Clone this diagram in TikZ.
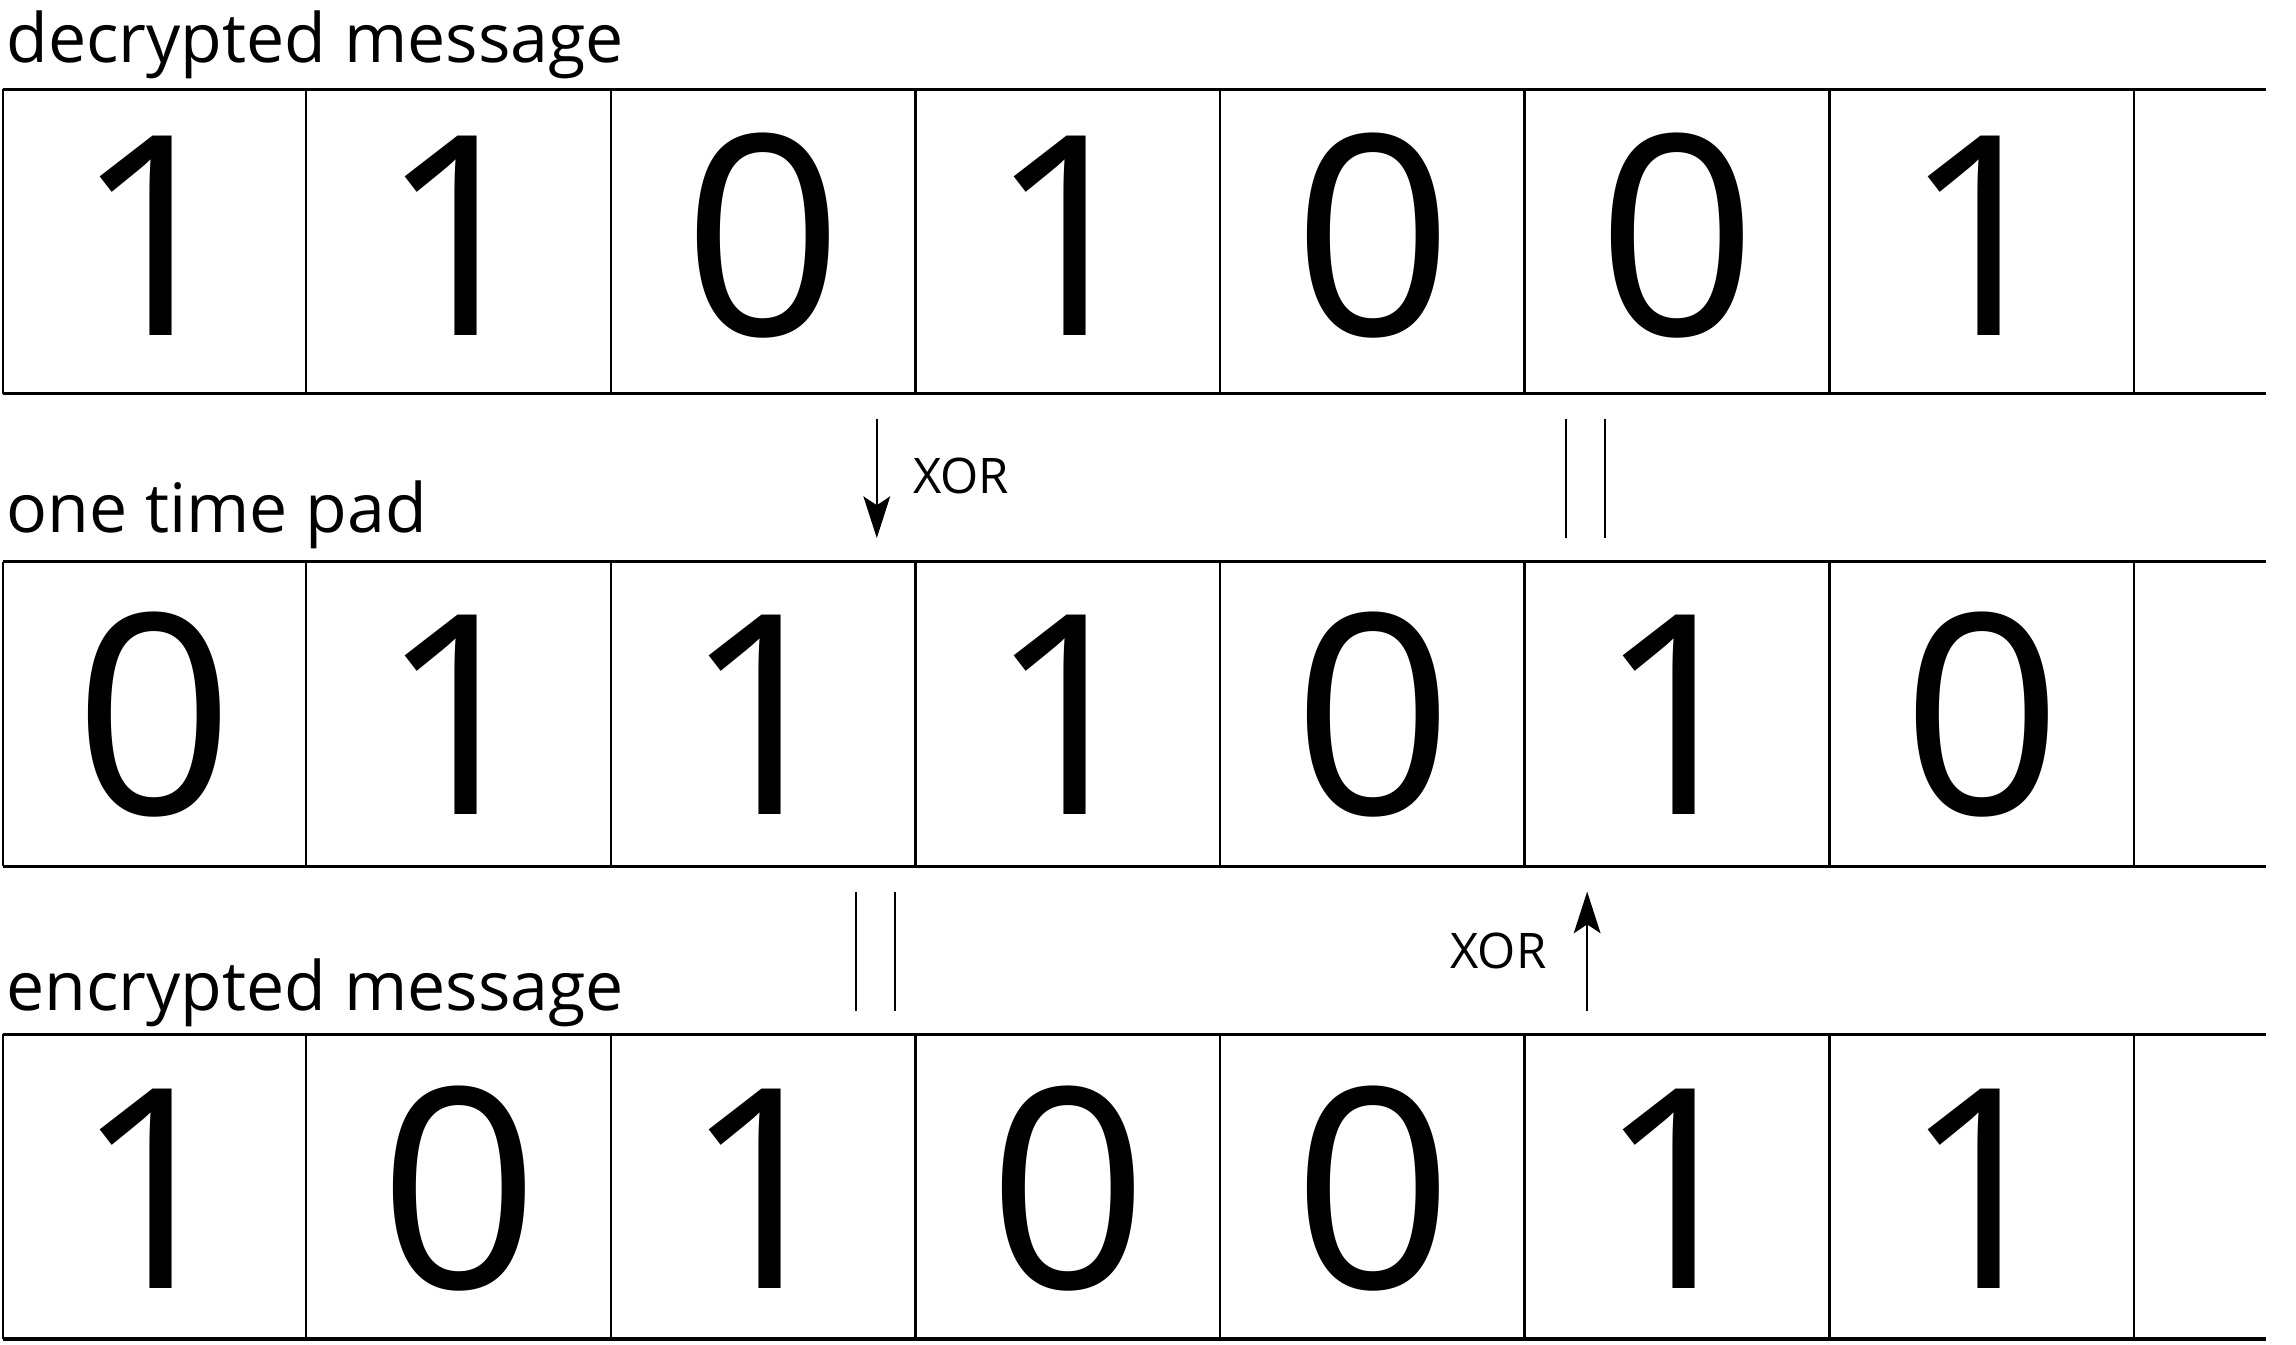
\documentclass[tikz,border=0pt]{standalone}
\usepackage{fontspec}
\setmainfont{Open Sans}
\usetikzlibrary{arrows.meta}
\begin{document}
\begin{tikzpicture}[x=0.5pt,y=-0.5pt,
 hline/.style={line width=1.1pt},
 vline/.style={line width=0.85pt},
 digit/.style={anchor=base,inner sep=0pt,font=\fontsize{94}{94}\selectfont},
 rowlabel/.style={anchor=base west,inner sep=0pt,font=\fontsize{22.9}{24}\selectfont},
 oplabel/.style={inner sep=0pt,font=\fontsize{16.5}{18}\selectfont},
 xorarrow/.style={line width=0.7pt,-{Stealth[length=14pt,width=9pt,inset=3pt]}},
 eqline/.style={line width=0.7pt}]
\useasboundingbox (0,0) rectangle (1545,905);
% row labels
\node[rowlabel] (lab1) at (4,42) {decrypted message};
\node[rowlabel] (lab2) at (4,358) {one time pad};
\node[rowlabel] (lab3) at (4,680) {encrypted message};
% rows
\foreach \r/\yt in {1/60,2/378,3/696}{
  \draw[hline] (2,\yt) -- (1525,\yt);
  \draw[hline] (2,\yt+205) -- (1525,\yt+205);
  \foreach \x in {2,206,411,616,821,1026,1231,1436}
    \draw[vline] (\x,\yt) -- (\x,\yt+205);
}
\foreach \d [count=\i] in {1,1,0,1,0,0,1}
  \node[digit] (a\i) at ({104+205*(\i-1)},226) {\d};
\foreach \d [count=\i] in {0,1,1,1,0,1,0}
  \node[digit] (b\i) at ({104+205*(\i-1)},548) {\d};
\foreach \d [count=\i] in {1,0,1,0,0,1,1}
  \node[digit] (c\i) at ({104+205*(\i-1)},867) {\d};
% operations between row 1 and 2
\coordinate (p1s) at (590,282);
\coordinate (p1e) at (590,362);
\draw[xorarrow] (p1s) -- (p1e);
\node[oplabel,anchor=west] (x1) at (614,320) {XOR};
\coordinate (q1a) at (1054,282);
\coordinate (q1b) at (1054,362);
\coordinate (q2a) at (1080,282);
\coordinate (q2b) at (1080,362);
\draw[eqline] (q1a) -- (q1b);
\draw[eqline] (q2a) -- (q2b);
% operations between row 2 and 3
\coordinate (r1a) at (576,600);
\coordinate (r1b) at (576,680);
\coordinate (r2a) at (602,600);
\coordinate (r2b) at (602,680);
\draw[eqline] (r1a) -- (r1b);
\draw[eqline] (r2a) -- (r2b);
\coordinate (p2s) at (1068,680);
\coordinate (p2e) at (1068,600);
\draw[xorarrow] (p2s) -- (p2e);
\node[oplabel,anchor=east] (x2) at (1041,640) {XOR};
\end{tikzpicture}
\end{document}
